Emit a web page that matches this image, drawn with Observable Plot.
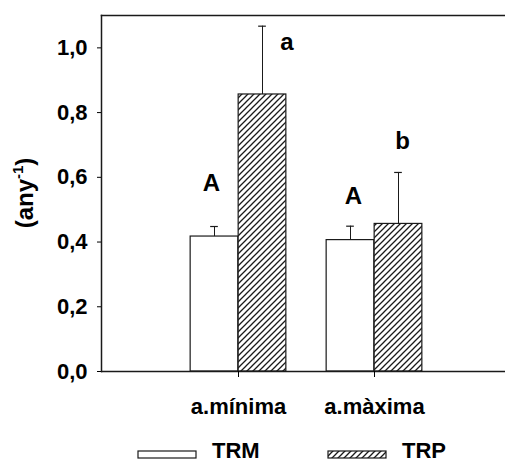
<!DOCTYPE html>
<html>
<head>
<meta charset="utf-8">
<script src="https://cdn.jsdelivr.net/npm/d3@7"></script>
<script src="https://cdn.jsdelivr.net/npm/@observablehq/plot@0.6"></script>
<style>
  body { margin: 0; background: #fff; }
  #chart { width: 505px; height: 466px; font-family: "Liberation Sans", Arial, sans-serif; }
  #chart svg { display: block; }
</style>
</head>
<body>
<div id="chart"></div>
<script>
// ---- data ----
const categories = ["a.mínima", "a.màxima"];
const series = ["TRM", "TRP"];
const trmValues = [0.417, 0.406];
const trpValues = [0.856, 0.456];
const trmErrors = [0.031, 0.043];   // upper standard error
const trpErrors = [0.211, 0.159];
const trmLetters = ["A", "A"];
const trpLetters = ["a", "b"];
const yTicks = [0, 0.2, 0.4, 0.6, 0.8, 1.0];
const yMax = 1.1;

// ---- layout ----
const W = 505, H = 430, LEGEND_H = 36;
const STEP = 136.3, BAR_W = 48;
const CENTER0 = 237.7;
const INK = "#1a1a1a";
const FONT = "'Liberation Sans', Arial, sans-serif";
// per-letter pixel nudges, in order: TRM a.mínima, TRM a.màxima, TRP a.mínima, TRP a.màxima
const letterNudges = [
  {dx: -3, dy: -36}, {dx: 3, dy: -22},
  {dx: 24.5, dy: 24}, {dx: 4, dy: -23}
];

const rows = (name, values, errors, letters) =>
  categories.map((cat, i) => ({
    cat, series: name, value: values[i], top: values[i] + errors[i], letter: letters[i]
  }));
const trmRows = rows(series[0], trmValues, trmErrors, trmLetters);
const trpRows = rows(series[1], trpValues, trpErrors, trpLetters);

const half = STEP / 2;
const inner = half - BAR_W;          // gap between band edge and bar pair
const capInset = half - 4;           // leaves an 8px cap

const letterMarks = [...trmRows, ...trpRows].map((d, i) =>
  Plot.text([d], {
    x: "cat", y: "top", text: "letter",
    dx: (d.series === series[0] ? -BAR_W / 2 : BAR_W / 2) + letterNudges[i].dx,
    dy: letterNudges[i].dy,
    fontSize: 24, fontWeight: "bold", fill: "#000", lineAnchor: "bottom"
  })
);

const chart = Plot.plot({
  width: W,
  height: H,
  marginLeft: 101,
  marginRight: 0,
  marginTop: 15,
  marginBottom: 59,
  style: {fontFamily: FONT, fontSize: "22px", fontWeight: "bold", color: "#000", background: "#fff", overflow: "visible"},
  x: {domain: categories, range: [CENTER0 - half, CENTER0 + STEP + half], padding: 0},
  y: {domain: [0, yMax]},
  marks: [
    Plot.barY(trmRows, {x: "cat", y: "value", fill: "#fff", stroke: INK, strokeWidth: 1.2,
      insetLeft: inner, insetRight: half}),
    Plot.barY(trpRows, {x: "cat", y: "value", fill: "url(#hatch)", stroke: INK, strokeWidth: 1.2,
      insetLeft: half, insetRight: inner}),
    Plot.ruleX(trmRows, {x: "cat", y1: "value", y2: "top", dx: -BAR_W / 2, stroke: INK, strokeWidth: 1}),
    Plot.ruleX(trpRows, {x: "cat", y1: "value", y2: "top", dx: BAR_W / 2, stroke: INK, strokeWidth: 1}),
    Plot.tickY(trmRows, {x: "cat", y: "top", dx: -BAR_W / 2, insetLeft: capInset, insetRight: capInset, stroke: INK, strokeWidth: 1.2}),
    Plot.tickY(trpRows, {x: "cat", y: "top", dx: BAR_W / 2, insetLeft: capInset, insetRight: capInset, stroke: INK, strokeWidth: 1.2}),
    Plot.frame({anchor: "left", stroke: INK, strokeWidth: 1.5}),
    Plot.frame({anchor: "top", stroke: INK, strokeWidth: 1.5}),
    Plot.ruleY([0], {stroke: INK, strokeWidth: 1.5}),
    Plot.axisY({ticks: yTicks, tickFormat: d => d.toFixed(1).replace(".", ","),
      tickSize: 4, tickPadding: 10, label: null}),
    Plot.axisX({tickSize: 6, tickPadding: 21, label: null, style: {letterSpacing: "0.6px"}}),
    ...letterMarks
  ]
});

// hatch pattern for the TRP bars
const svg = d3.select(chart);
const defs = svg.insert("defs", ":first-child");
function addHatch(defsSel, id) {
  const p = defsSel.append("pattern").attr("id", id)
    .attr("patternUnits", "userSpaceOnUse").attr("width", 6).attr("height", 6);
  p.append("rect").attr("width", 6).attr("height", 6).attr("fill", "#fff");
  p.append("path").attr("d", "M-1,1 L1,-1 M0,6 L6,0 M5,7 L7,5")
    .attr("stroke", INK).attr("stroke-width", 1.3);
}
addHatch(defs, "hatch");

// y axis title with superscript
const yTitle = svg.append("text")
  .attr("transform", "translate(33,193) rotate(-90)")
  .attr("text-anchor", "middle")
  .attr("font-size", 24).attr("font-weight", "bold").attr("fill", "#000");
yTitle.append("tspan").text("(any");
yTitle.append("tspan").attr("font-size", 15).attr("dy", "-10").text("-1");
yTitle.append("tspan").attr("dy", "10").text(")");

document.getElementById("chart").appendChild(chart);

// legend below the plot
const legend = d3.select("#chart").append("svg")
  .attr("width", W).attr("height", LEGEND_H)
  .style("font-family", FONT);
addHatch(legend.append("defs"), "hatch-legend");
const legendItems = [
  {label: series[0], fill: "#fff", x: 138, tx: 212},
  {label: series[1], fill: "url(#hatch-legend)", x: 328, tx: 402}
];
const li = legend.selectAll("g").data(legendItems).join("g");
li.append("rect").attr("x", d => d.x).attr("y", 21).attr("width", 58).attr("height", 7)
  .attr("fill", d => d.fill).attr("stroke", INK).attr("stroke-width", 1.2);
li.append("text").attr("x", d => d.tx).attr("y", 28)
  .attr("font-size", 22).attr("font-weight", "bold").attr("fill", "#000")
  .text(d => d.label);
</script>
</body>
</html>
